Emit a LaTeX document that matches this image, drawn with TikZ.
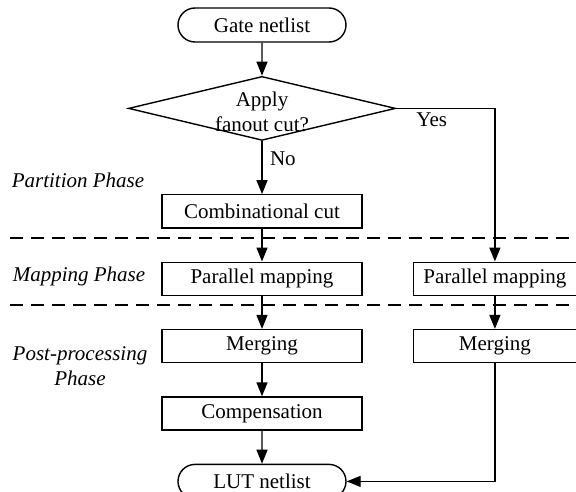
\documentclass[tikz,border=0pt]{standalone}
\usepackage{fontspec}
\setmainfont{Liberation Serif}
\usepackage{tikz}
\usetikzlibrary{arrows.meta, positioning, shapes.geometric, shapes.misc}

\begin{document}
\begin{tikzpicture}[
  x=1pt, y=-1pt,
  node distance=33pt,
  font=\fontsize{21}{25}\selectfont,
  box/.style={draw, line width=1.4pt, minimum width=200pt, minimum height=33pt,
              inner sep=0pt},
  rbox/.style={box, minimum width=163pt},
  term/.style={draw, line width=1.4pt, rounded rectangle, minimum width=168pt,
              minimum height=34pt, inner sep=0pt},
  decision/.style={draw, line width=1.4pt, diamond, minimum width=267pt,
              minimum height=64pt, inner sep=0pt},
  arrow/.style={-{Triangle[length=14pt,width=11pt]}, line width=1.4pt},
  sep/.style={dashed, line width=1.4pt, dash pattern=on 13pt off 8pt},
  phase/.style={font=\fontsize{21}{25}\selectfont\itshape, align=center}
]
\useasboundingbox (0,0) rectangle (576,492);

\node[term]                     (gate)  at (262,25) {Gate netlist};
\node[decision, below=of gate]  (dec)   {};
\node[align=center, yshift=-3pt] (ask)  at (dec) {Apply\\fanout cut?};
\node[box, below=53pt of dec]   (cut)   {Combinational cut};
\node[box, below=of cut]        (pm1)   {Parallel mapping};
\node[box, below=of pm1]        (mg1)   {Merging};
\node[box, below=of mg1]        (comp)  {Compensation};
\node[term, below=of comp]      (lut)   {LUT netlist};
\node[rbox, right=50pt of pm1]  (pm2)   {Parallel mapping};
\node[rbox, below=of pm2]       (mg2)   {Merging};

% phase labels
\node[phase] (part) at (78,180) {Partition Phase};
\node[phase] (map)  at (79,276) {Mapping Phase};
\node[phase] (post) at (80,366) {Post-processing\\Phase};

% phase separators
\coordinate (s1l) at (10,238);  \coordinate (s1r) at (576,238);
\coordinate (s2l) at (10,305);  \coordinate (s2r) at (576,305);
\draw[sep] (s1l) -- (s1r);
\draw[sep] (s2l) -- (s2r);

\draw[arrow] (gate) -- (dec);
\draw[arrow] (dec.south) -- node[pos=0.33, right, xshift=4pt]{No} (cut);
\draw[arrow] (dec.east) -| node[pos=0.18, below]{Yes} (pm2.north);
\draw[arrow] (cut)  -- (pm1);
\draw[arrow] (pm1)  -- (mg1);
\draw[arrow] (mg1)  -- (comp);
\draw[arrow] (comp) -- (lut);
\draw[arrow] (pm2)  -- (mg2);
\draw[arrow] (mg2.south) |- (lut.east);
\end{tikzpicture}
\end{document}
